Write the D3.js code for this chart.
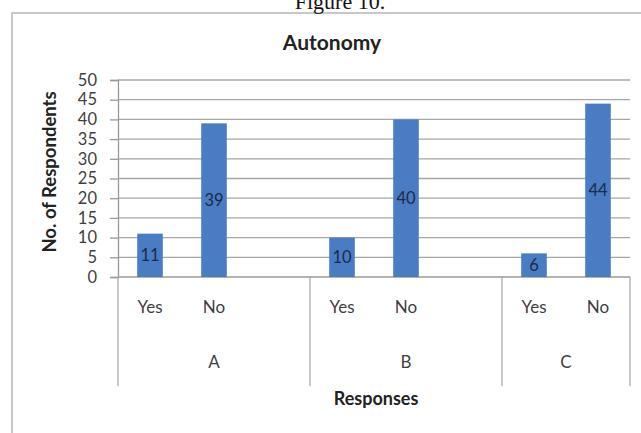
<!DOCTYPE html>
<html>
<head>
<meta charset="utf-8">
<script src="https://cdn.jsdelivr.net/npm/d3@7/dist/d3.min.js"></script>
<style>
  html, body { margin: 0; padding: 0; background: #fff; }
  svg { display: block; }
</style>
</head>
<body>
<svg id="chart" width="641" height="433"></svg>
<script>
// ---- data ----
const groups = ["A", "B", "C"];
const responses = ["Yes", "No"];
const yesValues = [11, 10, 6];
const noValues = [39, 40, 44];
const yTicks = [0, 5, 10, 15, 20, 25, 30, 35, 40, 45, 50];
const chartTitle = "Autonomy";
const figureCaption = "Figure 10.";
const xTitle = "Responses";
const yTitle = "No. of Respondents";

// ---- build slots (Excel multi-level axis: Yes, No, blank per group; last group no blank) ----
const slots = [];
groups.forEach((g, gi) => {
  slots.push({ key: g + "-Yes", group: g, resp: responses[0], value: yesValues[gi] });
  slots.push({ key: g + "-No", group: g, resp: responses[1], value: noValues[gi] });
  if (gi < groups.length - 1) slots.push({ key: g + "-gap", group: g, resp: null, value: null });
});

const svg = d3.select("#chart");
const font = "Lato, 'Open Sans', sans-serif";

// outer chart border
svg.append("rect")
  .attr("x", 12).attr("y", 13).attr("width", 660).attr("height", 450)
  .attr("fill", "#fff").attr("stroke", "#c8c8c8").attr("stroke-width", 2);

// caption (partly cut at top, as in the reference)
svg.append("text")
  .attr("x", 340).attr("y", 9)
  .attr("text-anchor", "middle")
  .attr("font-family", "'Liberation Serif', 'DejaVu Serif', serif")
  .attr("font-size", 22).attr("fill", "#111")
  .text(figureCaption);

const plotLeft = 118, plotRight = 630, plotTop = 80, plotBottom = 277;

const x = d3.scaleBand().domain(slots.map(d => d.key)).range([plotLeft, plotRight]).paddingInner(0).paddingOuter(0);
const y = d3.scaleLinear().domain([0, 50]).range([plotBottom, plotTop]);

// title
svg.append("text")
  .attr("x", 332).attr("y", 50)
  .attr("text-anchor", "middle")
  .attr("font-family", font).attr("font-weight", "bold")
  .attr("font-size", 21).attr("fill", "#222")
  .text(chartTitle);

// gridlines
svg.append("g").selectAll("line").data(yTicks).join("line")
  .attr("x1", plotLeft).attr("x2", plotRight)
  .attr("y1", d => y(d)).attr("y2", d => y(d))
  .attr("stroke", d => d === 0 ? "#999" : "#a6a6a6").attr("stroke-width", 1.3);

// y axis
const yAxis = d3.axisLeft(y).tickValues(yTicks).tickSize(8).tickPadding(13);
const yg = svg.append("g").attr("transform", `translate(${plotLeft},0)`).call(yAxis);
yg.select(".domain").attr("stroke", "#999").attr("stroke-width", 1.3);
yg.selectAll(".tick line").attr("stroke", "#999").attr("stroke-width", 1.3);
yg.selectAll(".tick text")
  .attr("font-family", font).attr("font-size", 16.5).attr("fill", "#404040");

// y title
svg.append("text")
  .attr("transform", `translate(50,172) rotate(-90)`)
  .attr("dy", "0.35em")
  .attr("text-anchor", "middle")
  .attr("font-family", font).attr("font-weight", "bold")
  .attr("font-size", 18.5).attr("fill", "#222")
  .text(yTitle);

// bars
const barData = slots.filter(d => d.value !== null);
const barW = x.bandwidth() * 0.4;
svg.append("g").selectAll("rect").data(barData).join("rect")
  .attr("x", d => x(d.key) + (x.bandwidth() - barW) / 2)
  .attr("y", d => y(d.value))
  .attr("width", barW)
  .attr("height", d => y(0) - y(d.value))
  .attr("fill", "#4a7cc3");

// data labels (centered)
svg.append("g").selectAll("text").data(barData).join("text")
  .attr("x", d => x(d.key) + x.bandwidth() / 2)
  .attr("y", d => (y(d.value) + y(0)) / 2)
  .attr("dy", "0.36em")
  .attr("text-anchor", "middle")
  .attr("font-family", font).attr("font-size", 16.5).attr("fill", "#1b2a4a")
  .text(d => d.value);

// x axis: category labels
svg.append("g").selectAll("text").data(barData).join("text")
  .attr("x", d => x(d.key) + x.bandwidth() / 2)
  .attr("y", 307).attr("dy", "0.36em")
  .attr("text-anchor", "middle")
  .attr("font-family", font).attr("font-size", 17).attr("fill", "#404040")
  .text(d => d.resp);

// group dividers
const groupStarts = groups.map(g => x(g + "-Yes"));
const dividers = groupStarts.concat([plotRight]);
svg.append("g").selectAll("line").data(dividers).join("line")
  .attr("x1", d => d).attr("x2", d => d)
  .attr("y1", plotBottom).attr("y2", 386)
  .attr("stroke", "#aaa").attr("stroke-width", 1.3);

// group labels
svg.append("g").selectAll("text").data(groups).join("text")
  .attr("x", (g, i) => (dividers[i] + dividers[i + 1]) / 2)
  .attr("y", 362).attr("dy", "0.36em")
  .attr("text-anchor", "middle")
  .attr("font-family", font).attr("font-size", 17).attr("fill", "#404040")
  .text(g => g);

// x title
svg.append("text")
  .attr("x", 376).attr("y", 399).attr("dy", "0.36em")
  .attr("text-anchor", "middle")
  .attr("font-family", font).attr("font-weight", "bold")
  .attr("font-size", 18).attr("fill", "#222")
  .text(xTitle);
</script>
</body>
</html>
